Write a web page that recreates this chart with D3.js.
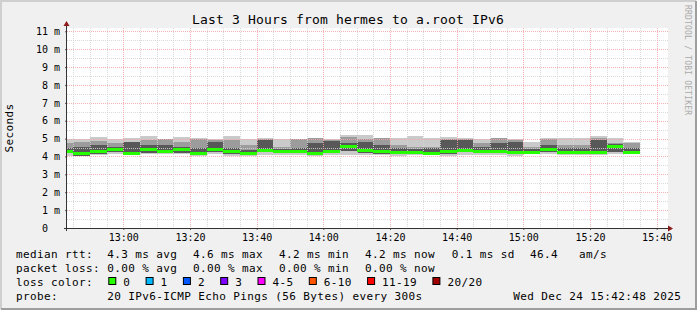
<!DOCTYPE html>
<html>
<head>
<meta charset="utf-8">
<script src="https://cdn.jsdelivr.net/npm/d3@7"></script>
<style>
  body { margin: 0; background: #f0f0f0; }
  svg text { font-family: "DejaVu Sans Mono", monospace; white-space: pre; }
</style>
</head>
<body>
<div class="chart"></div>
<script>
// 5 minute steps, value is end of step
var times = ["12:45","12:50","12:55","13:00","13:05","13:10","13:15","13:20","13:25","13:30","13:35","13:40",
  "13:45","13:50","13:55","14:00","14:05","14:10","14:15","14:20","14:25","14:30","14:35","14:40",
  "14:45","14:50","14:55","15:00","15:05","15:10","15:15","15:20","15:25","15:30","15:35"];

// milliseconds
var median = [4.29,4.17,4.26,4.41,4.19,4.40,4.26,4.37,4.17,4.40,4.28,4.15,4.32,4.29,4.29,4.19,4.30,4.56,
  4.32,4.28,4.22,4.20,4.18,4.27,4.31,4.30,4.26,4.23,4.25,4.37,4.25,4.24,4.25,4.54,4.23];
var pingMax = [4.95,4.97,5.08,4.99,5.03,5.14,4.99,5.08,5.01,4.99,5.12,4.97,5.05,4.97,4.99,5.05,4.97,5.22,
  5.20,5.05,5.01,5.14,5.01,5.10,5.01,4.99,5.05,4.97,4.79,5.01,5.01,5.01,5.14,5.05,4.82];
var pingMin = [4.04,4.00,4.08,4.12,4.08,4.12,4.12,4.12,4.04,4.12,4.04,4.04,4.08,4.08,4.08,4.04,4.08,4.08,
  4.08,4.08,4.04,4.08,4.08,4.04,4.08,4.08,4.08,4.04,4.12,4.12,4.08,4.08,4.08,4.12,4.12];
var pingUpper = [4.73,4.82,4.86,4.73,4.82,4.92,4.97,4.82,4.97,4.92,4.92,4.64,4.97,4.54,4.97,5.01,4.92,5.10,
  4.97,5.05,4.64,4.54,4.54,4.97,4.97,4.73,5.01,4.93,4.54,4.97,4.64,4.64,5.01,4.73,4.73];
var darkTop = [4.49,4.54,4.64,4.54,4.79,4.64,4.64,4.54,4.45,4.82,4.49,4.36,4.92,4.41,4.49,4.73,4.86,4.73,
  4.82,4.64,4.45,4.41,4.49,4.92,4.92,4.54,4.73,4.82,4.41,4.64,4.45,4.45,4.92,4.67,4.49];
var darkBottom = [4.17,4.04,4.12,4.23,4.12,4.17,4.17,4.17,4.08,4.26,4.15,4.08,4.23,4.19,4.17,4.08,4.19,4.30,
  4.19,4.14,4.12,4.12,4.12,4.15,4.23,4.19,4.17,4.12,4.17,4.23,4.15,4.15,4.15,4.26,4.15];

var yTicks = [0,1,2,3,4,5,6,7,8,9,10,11];
var xTickLabels = ["13:00","13:20","13:40","14:00","14:20","14:40","15:00","15:20","15:40"];

var rttStats = [4.3, 4.6, 4.2, 4.2, 0.1];
var lossStats = [0.00, 0.00, 0.00, 0.00];
var statNames = ["avg","max","min","now","sd"];
var amPerSec = 46.4;
var lossLabels = ["0","1","2","3","4-5","6-10","11-19","20/20"];
var lossColors = ["#26ff00","#00b8ff","#0059ff","#7e00ff","#ff00ff","#ff5500","#ff0000","#a00000"];

var width = 697, height = 310,
    plot = {left: 67, right: 667, top: 28, bottom: 228};

var parse = d3.timeParse("%Y-%m-%d %H:%M");
var day = "2025-12-24 ";
var start = new Date(2025, 11, 24, 12, 43, 6),
    end = new Date(2025, 11, 24, 15, 43, 6);

var x = d3.scaleTime().domain([start, end]).range([plot.left, plot.right]);
var y = d3.scaleLinear().domain([0, 11.185]).range([plot.bottom, plot.top]);

var svg = d3.select("div.chart").append("svg")
    .attr("width", width)
    .attr("height", height);

// background + shaded frame
svg.append("rect").attr("width", width).attr("height", height).attr("fill", "#f0f0f0");
svg.append("path").attr("d", "M1,309V1H696").attr("fill", "none").attr("stroke", "#cfcfcf").attr("stroke-width", 2);
svg.append("path").attr("d", "M1,309H696V1").attr("fill", "none").attr("stroke", "#9e9e9e").attr("stroke-width", 2);

svg.append("rect")
    .attr("x", plot.left).attr("y", plot.top)
    .attr("width", plot.right - plot.left + 1).attr("height", plot.bottom - plot.top)
    .attr("fill", "#ffffff");

// smoke
var bars = times.map(function(t, i) {
  var t1 = parse(day + t);
  var t0 = d3.timeMinute.offset(t1, -5);
  if (t0 < start) t0 = start;
  return {t0: t0, t1: t1, i: i};
});

function band(lo, hi, color) {
  svg.append("g").selectAll("rect")
      .data(bars)
      .enter().append("rect")
      .attr("x", function(d) { return x(d.t0); })
      .attr("width", function(d) { return x(d.t1) - x(d.t0); })
      .attr("y", function(d) { return y(hi[d.i]); })
      .attr("height", function(d) { return y(lo[d.i]) - y(hi[d.i]); })
      .attr("fill", color)
      .attr("shape-rendering", "crispEdges");
}
band(pingMin, pingMax, "#cacaca");
band(darkBottom, pingUpper, "#9c9c9c");
band(darkBottom, darkTop, "#585858");

// grid (drawn over the smoke like rrdtool)
var grid = svg.append("g").attr("class", "grid");
var halfTicks = d3.range(1, 23).map(function(d) { return d / 2; });
halfTicks.forEach(function(v) {
  var yy = Math.round(y(v)) + 0.5;
  var major = v % 1 === 0;
  grid.append("line")
      .attr("x1", plot.left).attr("x2", plot.right + 1)
      .attr("y1", yy).attr("y2", yy)
      .attr("stroke", major ? "#f2a4a4" : "#d4d4d4")
      .attr("stroke-opacity", 0.85)
      .attr("stroke-dasharray", "1,1");
});
var minorTimes = d3.timeMinute.every(5).range(start, end);
minorTimes.forEach(function(t) {
  var xx = Math.round(x(t)) + 0.5;
  var major = t.getMinutes() % 20 === 0;
  grid.append("line")
      .attr("x1", xx).attr("x2", xx)
      .attr("y1", plot.top).attr("y2", plot.bottom)
      .attr("stroke", major ? "#f2a4a4" : "#d4d4d4")
      .attr("stroke-opacity", 0.85)
      .attr("stroke-dasharray", "1,1");
});

svg.append("g").selectAll("rect")
    .data(bars)
    .enter().append("rect")
    .attr("x", function(d) { return x(d.t0); })
    .attr("width", function(d) { return x(d.t1) - x(d.t0); })
    .attr("y", function(d) { return y(median[d.i]) - 1.5; })
    .attr("height", 3)
    .attr("fill", lossColors[0])
    .attr("shape-rendering", "crispEdges");

// axes
var yAxis = svg.append("g")
    .attr("transform", "translate(" + plot.left + ",0)")
    .call(d3.axisLeft(y).tickValues(yTicks).tickSize(2).tickSizeOuter(0).tickPadding(5)
      .tickFormat(function(d) { return d === 0 ? "0" : d + " m"; }));
yAxis.select(".domain").remove();
yAxis.selectAll("text")
    .attr("dx", function(d) { return d === 0 ? -12 : 0; })
    .style("font-size", "10px")
    .attr("fill", "#000");
yAxis.selectAll("line").attr("stroke", "#555");

var xAxis = svg.append("g")
    .attr("transform", "translate(0," + plot.bottom + ")")
    .call(d3.axisBottom(x).tickValues(xTickLabels.map(function(d) { return parse(day + d); }))
      .tickSize(2).tickSizeOuter(0).tickPadding(3.5)
      .tickFormat(d3.timeFormat("%H:%M")));
xAxis.select(".domain").remove();
xAxis.selectAll("text").style("font-size", "10px").attr("fill", "#000");
xAxis.selectAll("line").attr("stroke", "#555");

svg.append("line")
    .attr("x1", plot.left - 0.5).attr("x2", plot.left - 0.5)
    .attr("y1", plot.bottom + 3).attr("y2", plot.top - 3)
    .attr("stroke", "#333");
svg.append("line")
    .attr("x1", plot.left - 3).attr("x2", plot.right + 4)
    .attr("y1", plot.bottom + 0.5).attr("y2", plot.bottom + 0.5)
    .attr("stroke", "#333");
svg.append("path")
    .attr("d", "M" + (plot.left - 3.5) + "," + (plot.top - 2) + "L" + (plot.left - 0.5) + "," + (plot.top - 7) +
               "L" + (plot.left + 2.5) + "," + (plot.top - 2) + "Z")
    .attr("fill", "#8b1a1a");
svg.append("path")
    .attr("d", "M" + (plot.right + 1) + "," + (plot.bottom - 2.5) + "L" + (plot.right + 6) + "," + (plot.bottom + 0.5) +
               "L" + (plot.right + 1) + "," + (plot.bottom + 3.5) + "Z")
    .attr("fill", "#8b1a1a");

// titles
svg.append("text")
    .attr("x", 348).attr("y", 23.5)
    .attr("text-anchor", "middle")
    .style("font-size", "13px")
    .style("letter-spacing", "0.17px")
    .text("Last 3 Hours from hermes to a.root IPv6");

svg.append("text")
    .attr("transform", "translate(13,128) rotate(-90)")
    .attr("text-anchor", "middle")
    .style("font-size", "11px")
    .style("letter-spacing", "0.38px")
    .text("Seconds");

svg.append("text")
    .attr("transform", "translate(685,5) rotate(90)")
    .style("font-size", "8px")
    .style("letter-spacing", "0.2px")
    .attr("fill", "#aaaaaa")
    .text("RRDTOOL / TOBI OETIKER");

// legend
var legend = svg.append("g").attr("class", "legend")
    .style("font-size", "11px")
    .style("letter-spacing", "0.38px");
var rows = [258.3, 272.2, 286.1, 300];
var cols = [107.3, 193, 279, 365, 451.7];

function legendText(xx, yy, s) {
  legend.append("text").attr("x", xx).attr("y", yy).text(s);
}

legendText(16, rows[0], "median rtt:");
rttStats.forEach(function(v, i) {
  legendText(cols[i], rows[0], v.toFixed(1) + " ms " + statNames[i]);
});
legendText(530, rows[0], amPerSec.toFixed(1) + "   am/s");

legendText(16, rows[1], "packet loss:");
lossStats.forEach(function(v, i) {
  legendText(cols[i], rows[1], v.toFixed(2) + " % " + statNames[i]);
});

legendText(16, rows[2], "loss color:");
var bx = 108.3;
lossLabels.forEach(function(l, i) {
  legend.append("rect")
      .attr("x", bx + 0.5).attr("y", 277.5)
      .attr("width", 7).attr("height", 7)
      .attr("fill", lossColors[i])
      .attr("stroke", "#000");
  legendText(bx + 15, rows[2], l);
  bx += 30.3 + 7 * l.length;
});

legendText(16, rows[3], "probe:");
legendText(107.3, rows[3], "20 IPv6-ICMP Echo Pings (56 Bytes) every 300s");
legendText(513.3, rows[3], "Wed Dec 24 15:42:48 2025");
</script>
</body>
</html>
